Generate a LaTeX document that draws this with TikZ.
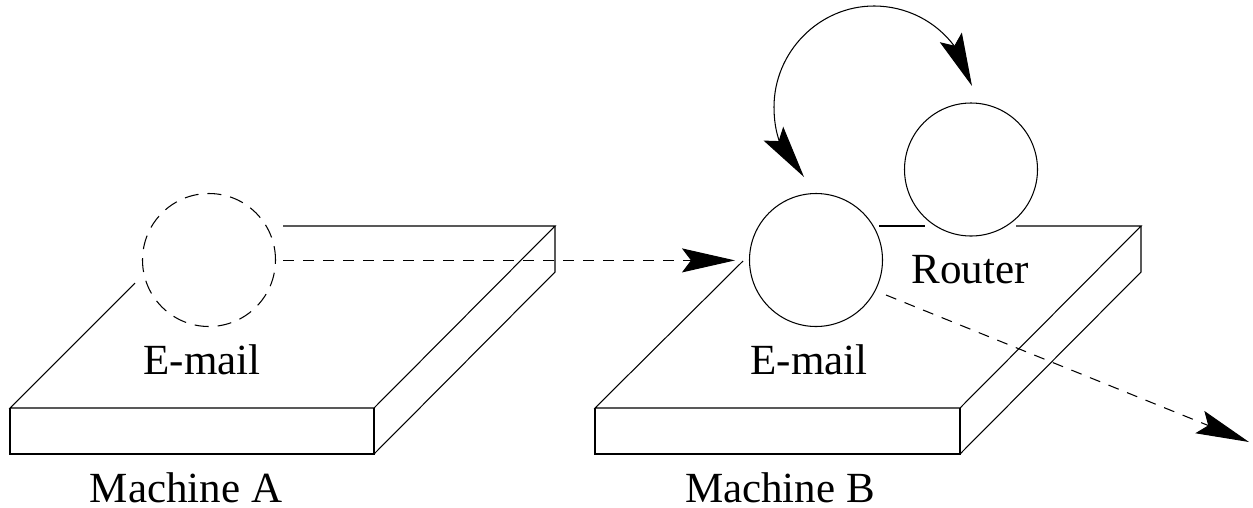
\documentclass[tikz,border=0pt]{standalone}
\usepackage{fontspec}
\setmainfont{Liberation Serif}
\usetikzlibrary{arrows.meta}
\tikzset{
  x=1pt,y=-1pt,
  every path/.style={line width=1.05pt,black},
  hostcircle/.style={circle,draw,minimum size=133pt,inner sep=0pt,line width=1.05pt},
  ghostcircle/.style={hostcircle,dash pattern=on 14pt off 9pt},
  lbl/.style={anchor=base,font=\fontsize{43}{43}\selectfont,inner sep=0pt},
  bigtip/.tip={Stealth[length=53pt,width=24pt,inset=9pt]},
  msgdash/.style={dash pattern=on 11pt off 9pt},
}
\begin{document}
\begin{tikzpicture}
\useasboundingbox (0,0) rectangle (1253,507);
% plate A
\coordinate (aFL) at (10,408);
\coordinate (aFR) at (374,408);
\coordinate (aBL) at (10,454);
\coordinate (aBR) at (374,454);
\coordinate (aTL) at (135,283);
\coordinate (aB1) at (283,226);
\coordinate (aB2) at (555,226);
\coordinate (aB3) at (555,272);
\draw (aTL) -- (aFL) -- (aFR) -- (aB2) -- (aB1);
\draw (aFL) -- (aBL) -- (aBR) -- (aFR);
\draw (aBR) -- (aB3) -- (aB2);
% plate B
\coordinate (bFL) at (595,408);
\coordinate (bFR) at (960,408);
\coordinate (bBL) at (595,454);
\coordinate (bBR) at (960,454);
\coordinate (bTL) at (743,261);
\coordinate (bB0) at (879,226);
\coordinate (bB1) at (925,226);
\coordinate (bB2) at (1016,226);
\coordinate (bB3) at (1141,226);
\coordinate (bB4) at (1141,272);
\draw (bTL) -- (bFL) -- (bFR) -- (bB3) -- (bB2);
\draw (bB0) -- (bB1);
\draw (bFL) -- (bBL) -- (bBR) -- (bFR);
\draw (bBR) -- (bB4) -- (bB3);
% circles
\node[ghostcircle] (mailA) at (209,260) {};
\node[hostcircle] (mailB) at (816,260) {};
\node[hostcircle] (router) at (971,169.5) {};
% labels
\node[lbl] (tMailA) at (202,374) {E-mail};
\node[lbl] (tMailB) at (809,374) {E-mail};
\node[lbl] (tRouter) at (970,283) {Router};
\node[lbl] (tMachA) at (186,502.5) {Machine A};
\node[lbl] (tMachB) at (780,502.5) {Machine B};
% connectors
\coordinate (aOut) at (283,260.4);
\coordinate (bIn) at (735,260.4);
\draw[msgdash,-bigtip] (aOut) -- (bIn);
\coordinate (bOut) at (886,295);
\coordinate (net) at (1249,442);
\draw[msgdash,-bigtip] (bOut) -- (net);
\coordinate (tipB) at (804,177);
\coordinate (nB) at (780,143);
\coordinate (arcL) at (774,107);
\coordinate (arcT) at (874,6);
\coordinate (nR) at (955,47);
\coordinate (tipR) at (972,86);
\draw[bigtip-bigtip] (tipB) -- (nB) .. controls (775.6,131.5) and (774,119) .. (arcL)
  .. controls (774,52) and (819,6) .. (arcT)
  .. controls (906,6) and (936,21) .. (nR) -- (tipR);
\end{tikzpicture}
\end{document}
